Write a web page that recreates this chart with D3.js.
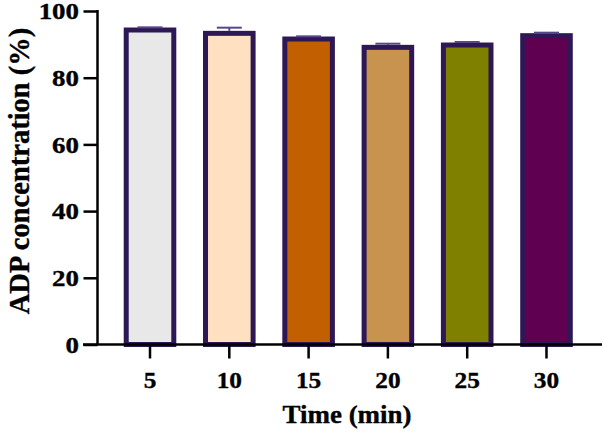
<!DOCTYPE html>
<html>
<head>
<meta charset="utf-8">
<script src="https://cdn.jsdelivr.net/npm/d3@7"></script>
<style>
  html, body { margin: 0; padding: 0; background: #ffffff; }
  svg { display: block; }
</style>
</head>
<body>
<svg id="chart" width="603" height="438"></svg>
<script>
// ---- data ----
const categories = ["5", "10", "15", "20", "25", "30"];
const values = [94.3, 93.3, 91.6, 89.1, 89.8, 92.6];
const errors = [0.8, 1.7, 0.8, 1.1, 0.9, 0.9];
const fillColors = ["#e8e8e8", "#ffe1c2", "#c25f00", "#c8934e", "#7f7f00", "#5f0050"];
const yTicks = [0, 20, 40, 60, 80, 100];
const xTitle = "Time (min)";
const yTitle = "ADP concentration (%)";

// ---- layout ----
const svg = d3.select("#chart");
const axisX0 = 97.5;     // y axis position
const axisY0 = 344.5;    // x axis position
const barStroke = "#2d1855";
const errColor = "#56468a";

const x = d3.scaleBand()
  .domain(categories)
  .range([94.5, 602])
  .paddingInner(0.4)
  .paddingOuter(0.4);

const y = d3.scaleLinear().domain([0, 100]).range([axisY0, 11]);

const font = "'Liberation Serif', 'Times New Roman', serif";

// bars
const bars = svg.append("g");
bars.selectAll("rect")
  .data(categories)
  .join("rect")
  .attr("x", d => x(d))
  .attr("y", (d, i) => y(values[i]))
  .attr("width", x.bandwidth())
  .attr("height", (d, i) => y(0) - y(values[i]))
  .attr("fill", (d, i) => fillColors[i])
  .attr("stroke", barStroke)
  .attr("stroke-width", 5);

// error bars (upper only)
const eb = svg.append("g").attr("stroke", errColor).attr("stroke-width", 2);
categories.forEach((c, i) => {
  const cx = x(c) + x.bandwidth() / 2;
  eb.append("line")
    .attr("x1", cx).attr("x2", cx)
    .attr("y1", y(values[i]) - 2.5).attr("y2", y(values[i] + errors[i]));
  eb.append("line")
    .attr("x1", cx - 12.5).attr("x2", cx + 12.5)
    .attr("y1", y(values[i] + errors[i])).attr("y2", y(values[i] + errors[i]));
});

// y axis
const yAxis = svg.append("g")
  .attr("transform", `translate(${axisX0},0)`)
  .call(d3.axisLeft(y).tickValues(yTicks).tickSize(14).tickSizeOuter(0));
yAxis.select(".domain").attr("stroke", "#000").attr("stroke-width", 2.5)
  .attr("d", `M0,${y(100) - 1}V${axisY0}`);
yAxis.selectAll(".tick line").attr("stroke", "#000").attr("stroke-width", 2.5);
yAxis.selectAll(".tick text")
  .attr("x", 0).attr("dy", "0.34em")
  .attr("transform", "translate(-18.5,0) scale(1.17,1)")
  .attr("text-anchor", "end")
  .style("font-family", font)
  .style("font-weight", "bold")
  .style("font-size", "23px")
  .attr("fill", "#000")
  .attr("stroke", "#000").attr("stroke-width", 0.35);

// x axis
const xAxis = svg.append("g")
  .attr("transform", `translate(0,${axisY0})`)
  .call(d3.axisBottom(x).tickSize(14).tickSizeOuter(0));
xAxis.select(".domain").attr("stroke", "#000").attr("stroke-width", 2.5)
  .attr("d", `M83,0H602`);
xAxis.selectAll(".tick line").attr("stroke", "#000").attr("stroke-width", 2.5);
xAxis.selectAll(".tick text")
  .attr("y", 0).attr("dy", "0")
  .attr("transform", "translate(0,43.4) scale(1.1,1)")
  .attr("text-anchor", "middle")
  .style("font-family", font)
  .style("font-weight", "bold")
  .style("font-size", "23px")
  .attr("fill", "#000")
  .attr("stroke", "#000").attr("stroke-width", 0.35);

// axis titles
svg.append("text")
  .attr("transform", "translate(347,422.5) scale(1.1,1)")
  .attr("text-anchor", "middle")
  .style("font-family", font)
  .style("font-weight", "bold")
  .style("font-size", "24.5px")
  .attr("stroke", "#000").attr("stroke-width", 0.35)
  .text(xTitle);

svg.append("text")
  .attr("transform", "translate(28.5,171) rotate(-90)")
  .attr("text-anchor", "middle")
  .style("font-family", font)
  .style("font-weight", "bold")
  .style("font-size", "28.5px")
  .attr("stroke", "#000").attr("stroke-width", 0.35)
  .text(yTitle);
</script>
</body>
</html>
